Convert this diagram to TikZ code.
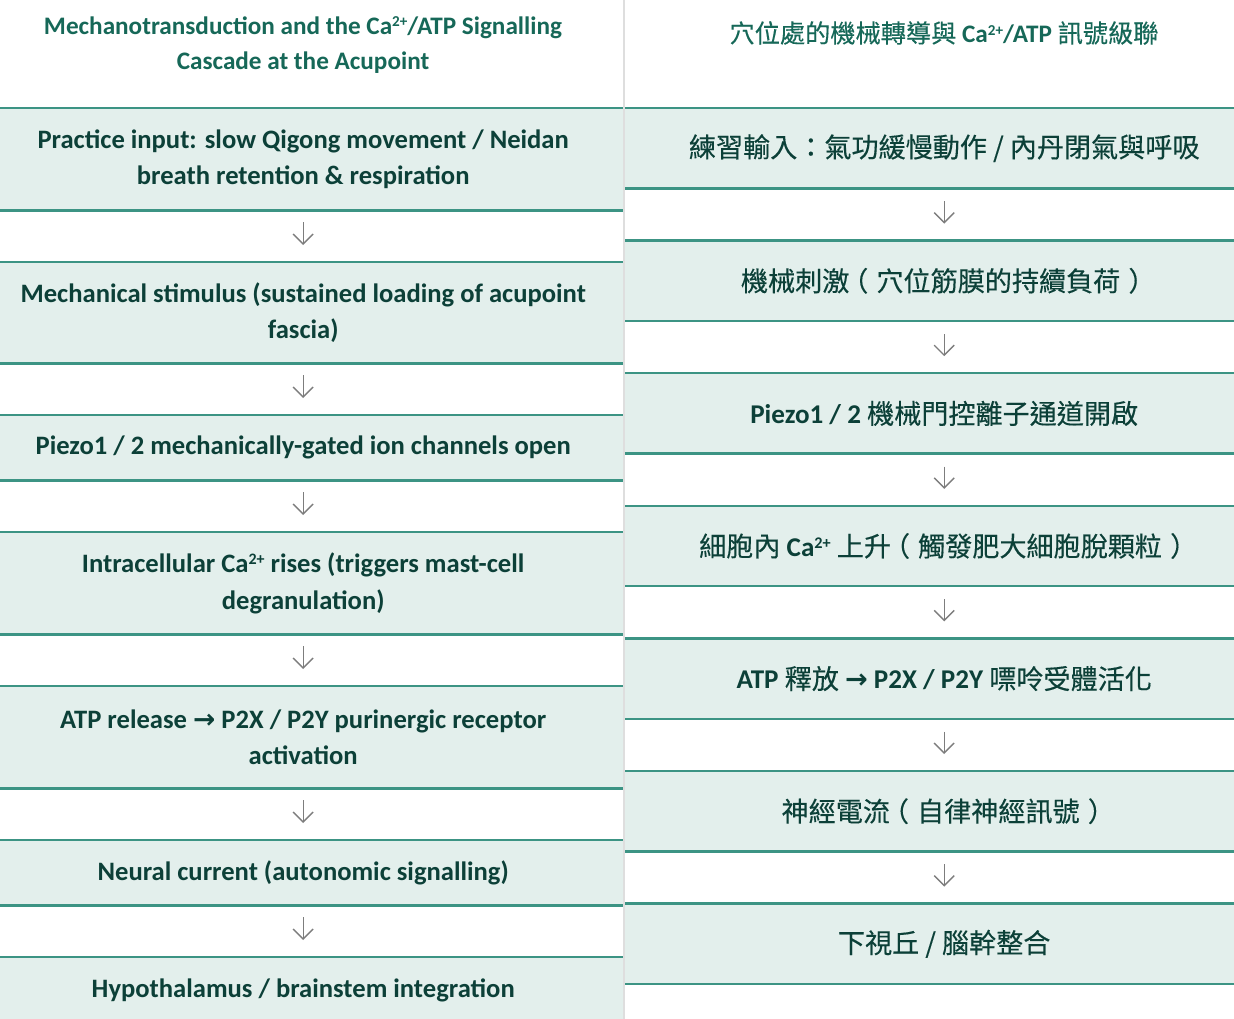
\documentclass[tikz,border=0pt]{standalone}
\usepackage{fontspec}
\setmainfont{Carlito}
\newfontfamily\cjk[FakeBold=0.3]{Noto Sans CJK TC}
\newfontfamily\symb{DejaVu Sans}
\usetikzlibrary{arrows.meta}
\definecolor{tealline}{RGB}{60,148,132}
\definecolor{boxfill}{RGB}{227,239,236}
\definecolor{titlecol}{RGB}{22,104,88}
\definecolor{textcol}{RGB}{12,64,56}
\definecolor{sepcol}{RGB}{222,222,222}
\definecolor{arrcol}{RGB}{125,125,125}
\newcommand\zh[1]{{\cjk\mdseries #1}}
\newcommand\cation{\raisebox{0.3em}{\scalebox{0.6}{2+}}}
\newcommand\rarr{{\symb\bfseries →}}
\newcommand\lpar{\kern-0.3em（\kern0.3em}
\newcommand\rpar{\kern0.3em）\kern-0.3em}
\begin{document}
\begin{tikzpicture}[x=1pt,y=-1pt,
  lbox/.style={fill=boxfill, minimum width=622.7pt, inner sep=0pt, anchor=north west},
  rbox/.style={fill=boxfill, minimum width=609pt, minimum height=80pt, inner sep=0pt, anchor=north west},
  tline/.style={draw=tealline, line width=2.5pt},
  ltext/.style={text=textcol, align=center, inner sep=0pt, font=\bfseries\fontsize{26.6}{36.5}\selectfont},
  rtext/.style={text=textcol, align=center, inner sep=0pt, font=\bfseries\fontsize{27.1}{33}\selectfont},
  ttext/.style={text=titlecol, align=center, inner sep=0pt, font=\bfseries\fontsize{25.2}{35}\selectfont},
  darr/.style={draw=arrcol, line width=1.4pt, -{Straight Barb[length=10pt,width=20pt]}}
]
\useasboundingbox (0,0) rectangle (1234,1019);
\clip (0,0) rectangle (1234,1019);
\fill[white] (0,0) rectangle (1234,1019);
% separator
\draw[draw=sepcol, line width=2.2pt] (623.8,0) -- (623.8,1019);

% titles
\node[ttext] (LT) at (303,45) {Mechanotransduction and the Ca\cation/ATP Signalling\\Cascade at the Acupoint};
\node[ttext] (RT) at (944,33) {\zh{穴位處的機械轉導與} Ca\cation/ATP \zh{訊號級聯}};

% left boxes
\node[lbox, minimum height=102pt] (L1) at (0,108) {};
\node[lbox, minimum height=101pt] (L2) at (0,262) {};
\node[lbox, minimum height=65pt]  (L3) at (0,415) {};
\node[lbox, minimum height=102pt] (L4) at (0,532) {};
\node[lbox, minimum height=102pt] (L5) at (0,686) {};
\node[lbox, minimum height=65pt]  (L6) at (0,840) {};
\node[lbox, minimum height=65pt]  (L7) at (0,957) {};
\foreach \b in {L1,L2,L3,L4,L5,L6,L7}{
  \draw[tline] (\b.north west) -- (\b.north east);
  \draw[tline] (\b.south west) -- (\b.south east);
}
\node[ltext] (L1t) at ([xshift=-8.35pt]L1.center) {Practice input: slow Qigong movement / Neidan\\breath retention \& respiration};
\node[ltext] (L2t) at ([xshift=-8.35pt]L2.center) {Mechanical stimulus (sustained loading of acupoint\\fascia)};
\node[ltext] (L3t) at ([xshift=-8.35pt]L3.center) {Piezo1 / 2 mechanically-gated ion channels open};
\node[ltext] (L4t) at ([xshift=-8.35pt]L4.center) {Intracellular Ca\cation{} rises (triggers mast-cell\\degranulation)};
\node[ltext] (L5t) at ([xshift=-8.35pt]L5.center) {ATP release \rarr{} P2X / P2Y purinergic receptor\\activation};
\node[ltext] (L6t) at ([xshift=-8.35pt]L6.center) {Neural current (autonomic signalling)};
\node[ltext] (L7t) at ([xshift=-8.35pt,yshift=-1pt]L7.center) {Hypothalamus / brainstem integration};
\foreach \a/\b in {L1/L2,L2/L3,L3/L4,L4/L5,L5/L6,L6/L7}{
  \draw[darr] ([xshift=-8.35pt,yshift=-12pt]\a.south) -- ([xshift=-8.35pt,yshift=17pt]\b.north);
}

% right boxes
\node[rbox] (R1) at (625,108) {};
\node[rbox] (R2) at (625,240.6) {};
\node[rbox] (R3) at (625,373.2) {};
\node[rbox] (R4) at (625,505.8) {};
\node[rbox] (R5) at (625,638.4) {};
\node[rbox] (R6) at (625,771) {};
\node[rbox] (R7) at (625,903.6) {};
\foreach \b in {R1,R2,R3,R4,R5,R6,R7}{
  \draw[tline] (\b.north west) -- (\b.north east);
  \draw[tline] (\b.south west) -- (\b.south east);
}
\node[rtext] (R1t) at ([xshift=14.5pt]R1.center) {\zh{練習輸入：氣功緩慢動作 / 內丹閉氣與呼吸}};
\node[rtext] (R2t) at ([xshift=14.5pt]R2.center) {\zh{機械刺激\lpar 穴位筋膜的持續負荷\rpar}};
\node[rtext] (R3t) at ([xshift=14.5pt]R3.center) {Piezo1 / 2 \zh{機械門控離子通道開啟}};
\node[rtext] (R4t) at ([xshift=14.5pt]R4.center) {\zh{細胞內} Ca\cation{} \zh{上升\lpar 觸發肥大細胞脫顆粒\rpar}};
\node[rtext] (R5t) at ([xshift=14.5pt]R5.center) {ATP \zh{釋放} \rarr{} P2X / P2Y \zh{嘌呤受體活化}};
\node[rtext] (R6t) at ([xshift=14.5pt]R6.center) {\zh{神經電流\lpar 自律神經訊號\rpar}};
\node[rtext] (R7t) at ([xshift=14.5pt]R7.center) {\zh{下視丘 / 腦幹整合}};
\foreach \a/\b in {R1/R2,R2/R3,R3/R4,R4/R5,R5/R6,R6/R7}{
  \draw[darr] ([xshift=14.5pt,yshift=-13pt]\a.south) -- ([xshift=14.5pt,yshift=17pt]\b.north);
}
\end{tikzpicture}
\end{document}
